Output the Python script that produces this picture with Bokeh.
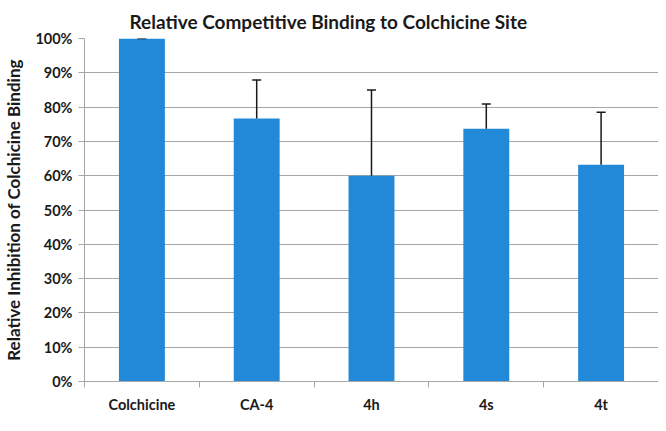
from bokeh.plotting import figure
from bokeh.models import (ColumnDataSource, Whisker, TeeHead, FixedTicker,
                          PrintfTickFormatter, Range1d, Title)
from bokeh.embed import file_html
from bokeh.resources import INLINE

# ---- data ----
categories = ["Colchicine", "CA-4", "4h", "4s", "4t"]
inhibition = [100.0, 76.7, 60.0, 73.7, 63.2]      # % relative inhibition
error_plus = [0.0, 11.2, 25.0, 7.2, 15.3]         # upward error bar length (%)
y_ticks = [0, 10, 20, 30, 40, 50, 60, 70, 80, 90, 100]

xs = [i + 0.5 for i in range(len(categories))]
upper = [v + e for v, e in zip(inhibition, error_plus)]
src = ColumnDataSource(dict(x=xs, v=inhibition, up=upper, name=categories))

FONT = "Lato"
TXT = "#1a1a1a"
GRID = "#a6a6a6"
BAR = "#2189d7"

p = figure(width=658, height=415, output_backend="svg", toolbar_location=None,
           x_range=Range1d(0, len(categories)), y_range=Range1d(0, 100),
           min_border_left=80, min_border_right=0, min_border_top=38,
           min_border_bottom=28, outline_line_color=None,
           background_fill_color="white", border_fill_color="white")

t = Title(text="Relative Competitive Binding to Colchicine Site", align="left",
          offset=45, text_font=FONT, text_font_style="bold", text_font_size="19px",
          text_color=TXT, standoff=12)
p.add_layout(t, "above")

p.vbar(x="x", top="v", width=0.4, source=src, fill_color=BAR, line_color=None)

wh = Whisker(base="x", lower="v", upper="up", source=src, dimension="height",
             line_color="#1a1a1a", line_width=1.5, lower_head=None,
             upper_head=TeeHead(size=9, line_color="#1a1a1a", line_width=1.5),
             level="overlay")
p.add_layout(wh)

# y axis
p.yaxis.ticker = FixedTicker(ticks=y_ticks)
p.yaxis.formatter = PrintfTickFormatter(format="%d%%")
p.yaxis.axis_label = "Relative Inhibition of Colchicine Binding"
p.yaxis.axis_label_text_font = FONT
p.yaxis.axis_label_text_font_style = "bold"
p.yaxis.axis_label_text_font_size = "17px"
p.yaxis.axis_label_text_color = TXT
p.yaxis.axis_label_standoff = 8
p.yaxis.major_label_text_font = FONT
p.yaxis.major_label_text_font_style = "bold"
p.yaxis.major_label_text_font_size = "14.5px"
p.yaxis.major_label_text_color = TXT
p.yaxis.major_label_standoff = 6
p.yaxis.major_tick_out = 6
p.yaxis.major_tick_in = 0
p.yaxis.minor_tick_line_color = None
p.yaxis.axis_line_color = GRID
p.yaxis.major_tick_line_color = GRID

# x axis: labels at category centres, ticks at category boundaries
p.xaxis.ticker = FixedTicker(ticks=xs, minor_ticks=list(range(len(categories) + 1)))
p.xaxis.major_label_overrides = {x: c for x, c in zip(xs, categories)}
p.xaxis.major_label_text_font = FONT
p.xaxis.major_label_text_font_style = "bold"
p.xaxis.major_label_text_font_size = "14.5px"
p.xaxis.major_label_text_color = TXT
p.xaxis.major_label_standoff = 8
p.xaxis.major_tick_out = 0
p.xaxis.major_tick_in = 0
p.xaxis.major_tick_line_color = None
p.xaxis.minor_tick_out = 6
p.xaxis.minor_tick_in = 0
p.xaxis.minor_tick_line_color = GRID
p.xaxis.axis_line_color = GRID

p.xgrid.grid_line_color = None
p.ygrid.grid_line_color = GRID
p.ygrid.grid_line_width = 1

open("out.html", "w").write(file_html(p, INLINE))
